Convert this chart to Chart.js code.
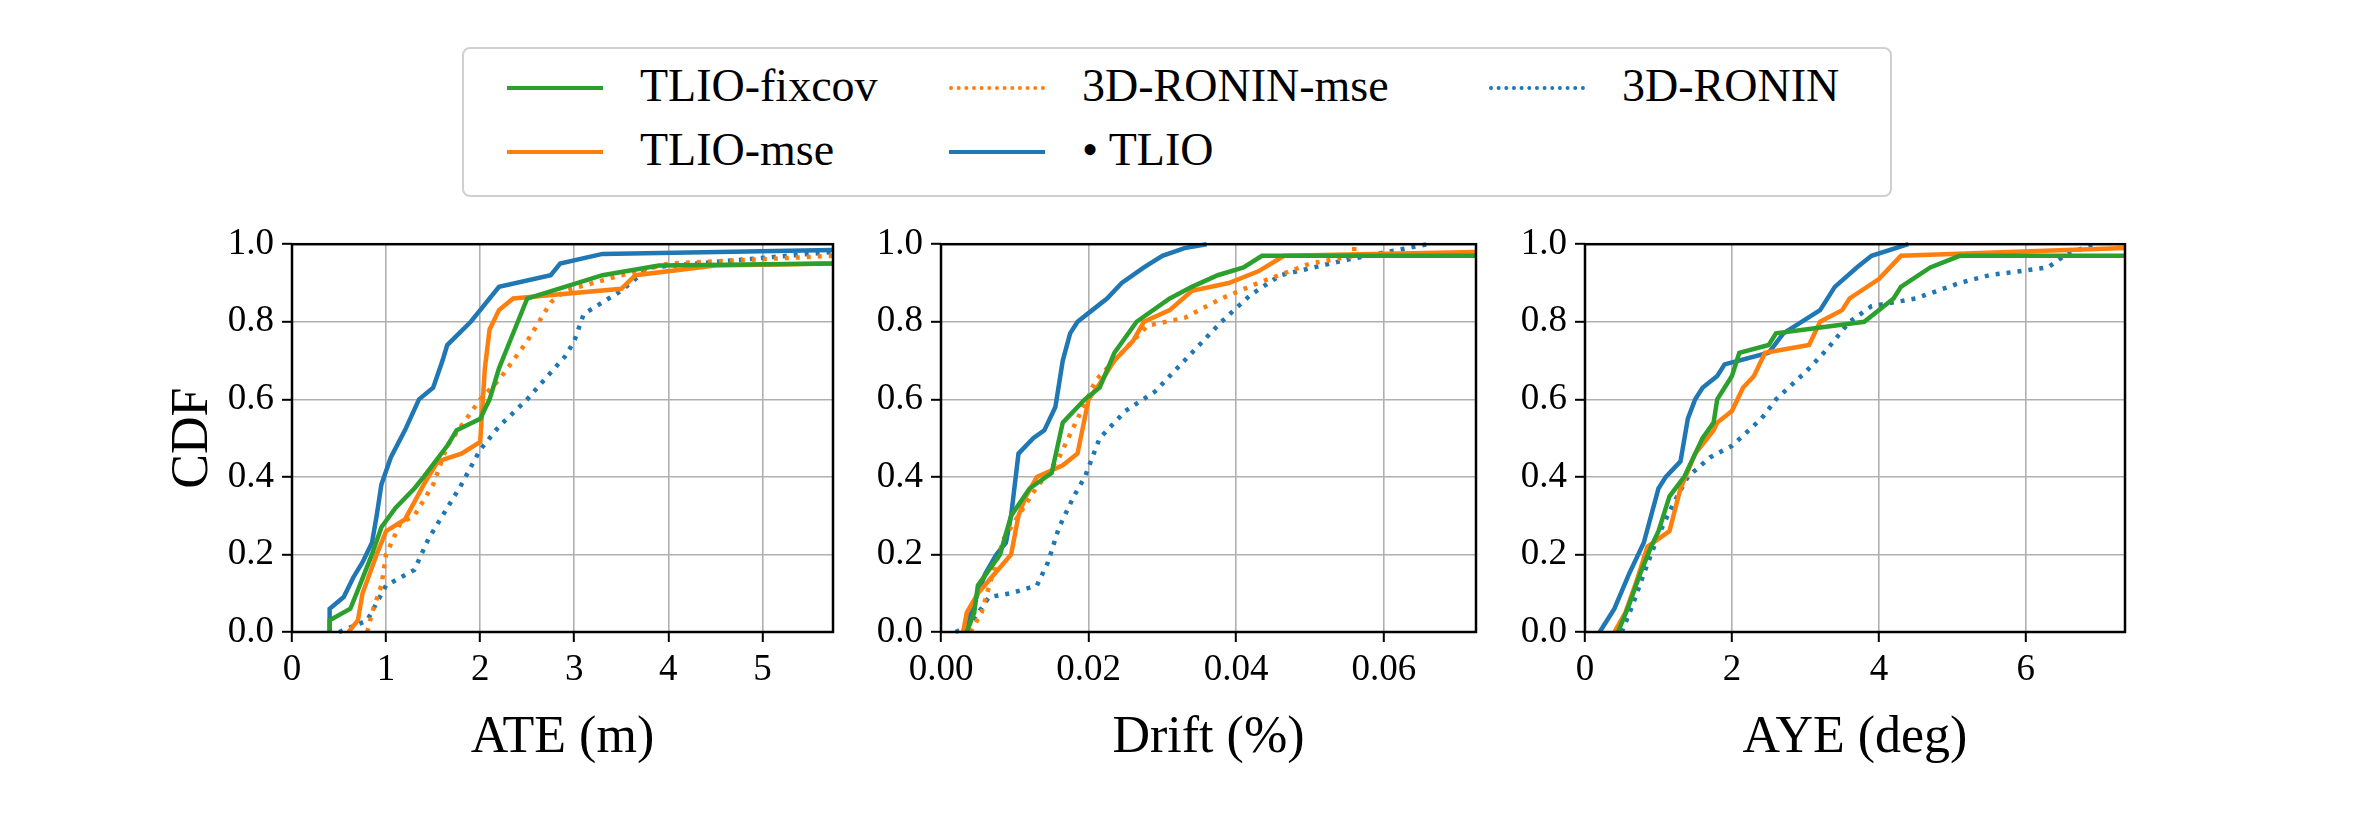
<!DOCTYPE html>
<html>
<head>
<meta charset="utf-8">
<script src="https://cdn.jsdelivr.net/npm/chart.js@4/dist/chart.umd.min.js"></script>
<style>
  body { margin: 0; width: 2362px; height: 827px; background: #fff; position: relative; overflow: hidden; font-family: "Liberation Serif", "DejaVu Serif", serif; }
  canvas { position: absolute; }
  .legend { position: absolute; left: 462px; top: 47px; width: 1430px; height: 150px; border: 2px solid #d0d0d0; border-radius: 8px; box-sizing: border-box; }
  .item { position: absolute; font-size: 46px; line-height: 46px; color: #000; }
  .swatch { position: absolute; width: 96px; height: 0; }
</style>
</head>
<body>
<div class="legend"></div>
<canvas id="c1"></canvas>
<canvas id="c2"></canvas>
<canvas id="c3"></canvas>
<script>
// series names and colours
const seriesNames = ['TLIO-fixcov', 'TLIO-mse', '3D-RONIN-mse', 'TLIO', '3D-RONIN'];
const seriesColors = ['#2ca02c', '#ff7f0e', '#ff7f0e', '#1f77b4', '#1f77b4'];
const seriesDotted = [false, false, true, false, true];

// ATE (m)
const ateTlioX = [0.4, 0.4, 0.55, 0.65, 0.75, 0.85, 0.9, 0.95, 1.05, 1.2, 1.35, 1.5, 1.6, 1.65, 1.9, 2.0, 2.2, 2.75, 2.85, 3.3, 5.75];
const ateTlioY = [0, 0.06, 0.09, 0.14, 0.18, 0.23, 0.3, 0.38, 0.45, 0.52, 0.6, 0.63, 0.7, 0.74, 0.8, 0.83, 0.89, 0.92, 0.95, 0.975, 0.985];
const ateFixX = [0.4, 0.4, 0.62, 0.72, 0.85, 0.95, 1.1, 1.3, 1.4, 1.65, 1.75, 2.0, 2.1, 2.2, 2.3, 2.4, 2.5, 2.9, 3.3, 3.9, 5.75];
const ateFixY = [0, 0.03, 0.06, 0.12, 0.2, 0.27, 0.32, 0.37, 0.4, 0.48, 0.52, 0.55, 0.6, 0.68, 0.74, 0.8, 0.86, 0.89, 0.92, 0.945, 0.95];
const ateMseX = [0.6, 0.7, 0.75, 0.9, 1.0, 1.2, 1.4, 1.55, 1.8, 2.0, 2.05, 2.1, 2.2, 2.35, 3.5, 3.65, 4.5, 5.75];
const ateMseY = [0, 0.03, 0.1, 0.2, 0.26, 0.29, 0.38, 0.44, 0.46, 0.49, 0.68, 0.78, 0.83, 0.86, 0.885, 0.92, 0.945, 0.95];
const ateRmseX = [0.8, 0.85, 0.95, 1.0, 1.15, 1.3, 1.5, 1.65, 2.0, 2.2, 2.5, 2.75, 2.9, 3.5, 4.0, 5.75];
const ateRmseY = [0, 0.05, 0.12, 0.2, 0.28, 0.3, 0.38, 0.48, 0.6, 0.65, 0.75, 0.85, 0.88, 0.92, 0.95, 0.97];
const ateRoninX = [0.5, 0.8, 1.0, 1.3, 1.45, 1.6, 1.8, 2.0, 2.2, 2.5, 2.9, 3.0, 3.1, 3.5, 3.8, 5.75];
const ateRoninY = [0, 0.03, 0.12, 0.16, 0.24, 0.3, 0.38, 0.47, 0.53, 0.6, 0.71, 0.75, 0.82, 0.88, 0.94, 0.98];
const ateTicks = [0, 1, 2, 3, 4, 5];

// Drift (%)
const driftTlioX = [0.003, 0.004, 0.006, 0.0075, 0.0088, 0.0095, 0.0105, 0.0125, 0.014, 0.0155, 0.0165, 0.0175, 0.0185, 0.0205, 0.0225, 0.0245, 0.0275, 0.03, 0.033, 0.036];
const driftTlioY = [0, 0.05, 0.15, 0.2, 0.23, 0.3, 0.46, 0.5, 0.52, 0.58, 0.7, 0.77, 0.8, 0.83, 0.86, 0.9, 0.94, 0.97, 0.99, 1.0];
const driftFixX = [0.0035, 0.0045, 0.005, 0.008, 0.0095, 0.012, 0.015, 0.0165, 0.0195, 0.0215, 0.0235, 0.0265, 0.031, 0.034, 0.0375, 0.041, 0.0435, 0.0725];
const driftFixY = [0, 0.05, 0.12, 0.2, 0.3, 0.37, 0.41, 0.54, 0.6, 0.63, 0.72, 0.8, 0.86, 0.89, 0.92, 0.94, 0.97, 0.97];
const driftMseX = [0.003, 0.0035, 0.005, 0.0095, 0.0105, 0.0115, 0.013, 0.0165, 0.0185, 0.02, 0.0215, 0.0235, 0.026, 0.0275, 0.031, 0.034, 0.039, 0.043, 0.0465, 0.0725];
const driftMseY = [0, 0.05, 0.1, 0.2, 0.3, 0.35, 0.4, 0.43, 0.46, 0.6, 0.64, 0.7, 0.75, 0.8, 0.83, 0.88, 0.9, 0.93, 0.97, 0.98];
const driftRmseX = [0.004, 0.0055, 0.007, 0.0085, 0.0105, 0.0125, 0.016, 0.0185, 0.021, 0.025, 0.028, 0.033, 0.038, 0.043, 0.05, 0.056, 0.056];
const driftRmseY = [0, 0.05, 0.15, 0.24, 0.3, 0.36, 0.45, 0.55, 0.65, 0.73, 0.79, 0.81, 0.86, 0.9, 0.95, 0.97, 1.0];
const driftRoninX = [0.002, 0.004, 0.0065, 0.0095, 0.013, 0.0145, 0.016, 0.018, 0.0195, 0.0215, 0.025, 0.029, 0.033, 0.036, 0.038, 0.042, 0.046, 0.055, 0.066];
const driftRoninY = [0, 0.02, 0.09, 0.1, 0.12, 0.18, 0.27, 0.35, 0.4, 0.5, 0.57, 0.62, 0.7, 0.76, 0.8, 0.87, 0.92, 0.96, 1.0];
const driftTicks = [0, 0.02, 0.04, 0.06];

// AYE (deg)
const ayeTlioX = [0.2, 0.4, 0.6, 0.8, 0.9, 1.0, 1.1, 1.3, 1.4, 1.5, 1.6, 1.8, 1.9, 2.5, 2.7, 3.2, 3.4, 3.7, 3.9, 4.4];
const ayeTlioY = [0, 0.06, 0.15, 0.23, 0.3, 0.37, 0.4, 0.44, 0.55, 0.6, 0.63, 0.66, 0.69, 0.72, 0.77, 0.83, 0.89, 0.94, 0.97, 1.0];
const ayeFixX = [0.45, 0.6, 0.75, 0.9, 1.0, 1.15, 1.35, 1.6, 1.75, 1.8, 2.0, 2.1, 2.5, 2.6, 3.8, 4.2, 4.3, 4.7, 5.1, 7.35];
const ayeFixY = [0, 0.07, 0.15, 0.22, 0.26, 0.35, 0.4, 0.5, 0.54, 0.6, 0.66, 0.72, 0.74, 0.77, 0.8, 0.86, 0.89, 0.94, 0.97, 0.97];
const ayeMseX = [0.4, 0.55, 0.7, 0.85, 1.0, 1.15, 1.3, 1.5, 1.75, 1.8, 2.0, 2.15, 2.3, 2.45, 3.05, 3.2, 3.5, 3.6, 4.0, 4.3, 7.35];
const ayeMseY = [0, 0.05, 0.13, 0.22, 0.24, 0.26, 0.37, 0.46, 0.52, 0.54, 0.57, 0.63, 0.66, 0.72, 0.74, 0.8, 0.83, 0.86, 0.91, 0.97, 0.99];
const ayeRoninX = [0.5, 0.65, 0.8, 1.0, 1.2, 1.4, 1.7, 2.0, 2.4, 2.6, 3.0, 3.3, 3.6, 3.9, 4.5, 5.1, 5.5, 6.3, 6.6, 7.0];
const ayeRoninY = [0, 0.07, 0.15, 0.25, 0.33, 0.4, 0.45, 0.48, 0.55, 0.6, 0.67, 0.73, 0.8, 0.84, 0.86, 0.9, 0.92, 0.94, 0.98, 1.0];
const ayeTicks = [0, 2, 4, 6];

const yTicks = [0, 0.2, 0.4, 0.6, 0.8, 1.0];

const TICK_FONT = { family: '"Liberation Serif", serif', size: 37 };
const TITLE_FONT = { family: '"Liberation Serif", serif', size: 52 };

function pts(xs, ys) { return xs.map((x, i) => ({ x: x, y: ys[i] })); }

function ds(idx, xs, ys) {
  return {
    label: seriesNames[idx],
    data: pts(xs, ys),
    showLine: true,
    borderColor: seriesColors[idx],
    borderWidth: 4.5,
    borderDash: seriesDotted[idx] ? [4, 7] : [],
    pointRadius: 0,
    tension: 0,
    clip: 4
  };
}

const frame = {
  id: 'frame',
  afterDraw(chart) {
    const a = chart.chartArea, c = chart.ctx;
    c.save();
    c.strokeStyle = '#000';
    c.lineWidth = 2.5;
    c.strokeRect(a.left, a.top, a.right - a.left, a.bottom - a.top);
    c.restore();
  }
};

function makeChart(id, left, width, datasets, xmax, xticks, xdec, xtitle, ytitle) {
  const el = document.getElementById(id);
  el.style.left = left + 'px';
  el.style.top = '214px';
  el.width = width;
  el.height = 560;
  new Chart(el, {
    type: 'scatter',
    data: { datasets: datasets },
    options: {
      responsive: false,
      animation: false,
      layout: { padding: { top: 20, right: 30, left: 0, bottom: 0 } },
      plugins: { legend: { display: false }, tooltip: { enabled: false } },
      scales: {
        x: {
          type: 'linear', min: 0, max: xmax,
          afterBuildTicks: s => { s.ticks = xticks.map(v => ({ value: v })); },
          afterFit: s => { s.height = 142; },
          ticks: { color: '#000', font: TICK_FONT, maxRotation: 0, autoSkip: false, padding: 6, callback: v => v.toFixed(xdec) },
          grid: { color: '#b0b0b0', lineWidth: 1.6, tickColor: '#000', tickLength: 10, tickWidth: 2 },
          border: { display: false },
          title: { display: true, text: xtitle, color: '#000', font: TITLE_FONT, padding: { top: 0 } }
        },
        y: {
          min: 0, max: 1,
          afterBuildTicks: s => { s.ticks = yTicks.map(v => ({ value: v })); },
          afterFit: s => { s.width = 130; },
          ticks: { color: '#000', font: TICK_FONT, padding: 8, callback: v => v.toFixed(1) },
          grid: { color: '#b0b0b0', lineWidth: 1.6, tickColor: '#000', tickLength: 10, tickWidth: 2 },
          border: { display: false },
          title: { display: !!ytitle, text: ytitle || '', color: '#000', font: TITLE_FONT, padding: 0 }
        }
      }
    },
    plugins: [frame]
  });
}

makeChart('c1', 162, 701, [
  ds(0, ateFixX, ateFixY), ds(1, ateMseX, ateMseY), ds(2, ateRmseX, ateRmseY),
  ds(3, ateTlioX, ateTlioY), ds(4, ateRoninX, ateRoninY)
], 5.75, ateTicks, 0, 'ATE (m)', 'CDF');

makeChart('c2', 811, 695, [
  ds(0, driftFixX, driftFixY), ds(1, driftMseX, driftMseY), ds(2, driftRmseX, driftRmseY),
  ds(3, driftTlioX, driftTlioY), ds(4, driftRoninX, driftRoninY)
], 0.0725, driftTicks, 2, 'Drift (%)', null);

makeChart('c3', 1455, 700, [
  ds(0, ayeFixX, ayeFixY), ds(1, ayeMseX, ayeMseY),
  ds(3, ayeTlioX, ayeTlioY), ds(4, ayeRoninX, ayeRoninY)
], 7.35, ayeTicks, 0, 'AYE (deg)', null);

// legend
const legendPos = [[507, 88], [507, 152], [949, 88], [949, 152], [1489, 88]];
const legendText = ['TLIO-fixcov', 'TLIO-mse', '3D-RONIN-mse', '\u2022 TLIO', '3D-RONIN'];
legendPos.forEach((p, i) => {
  const sw = document.createElement('div');
  sw.className = 'swatch';
  sw.style.left = p[0] + 'px';
  sw.style.top = (p[1] - 2) + 'px';
  sw.style.borderTop = '4px ' + (seriesDotted[i] ? 'dotted ' : 'solid ') + seriesColors[i];
  document.body.appendChild(sw);
  const t = document.createElement('div');
  t.className = 'item';
  t.style.left = (p[0] + 133) + 'px';
  t.style.top = (p[1] - 25) + 'px';
  t.textContent = legendText[i];
  document.body.appendChild(t);
});
</script>
</body>
</html>
